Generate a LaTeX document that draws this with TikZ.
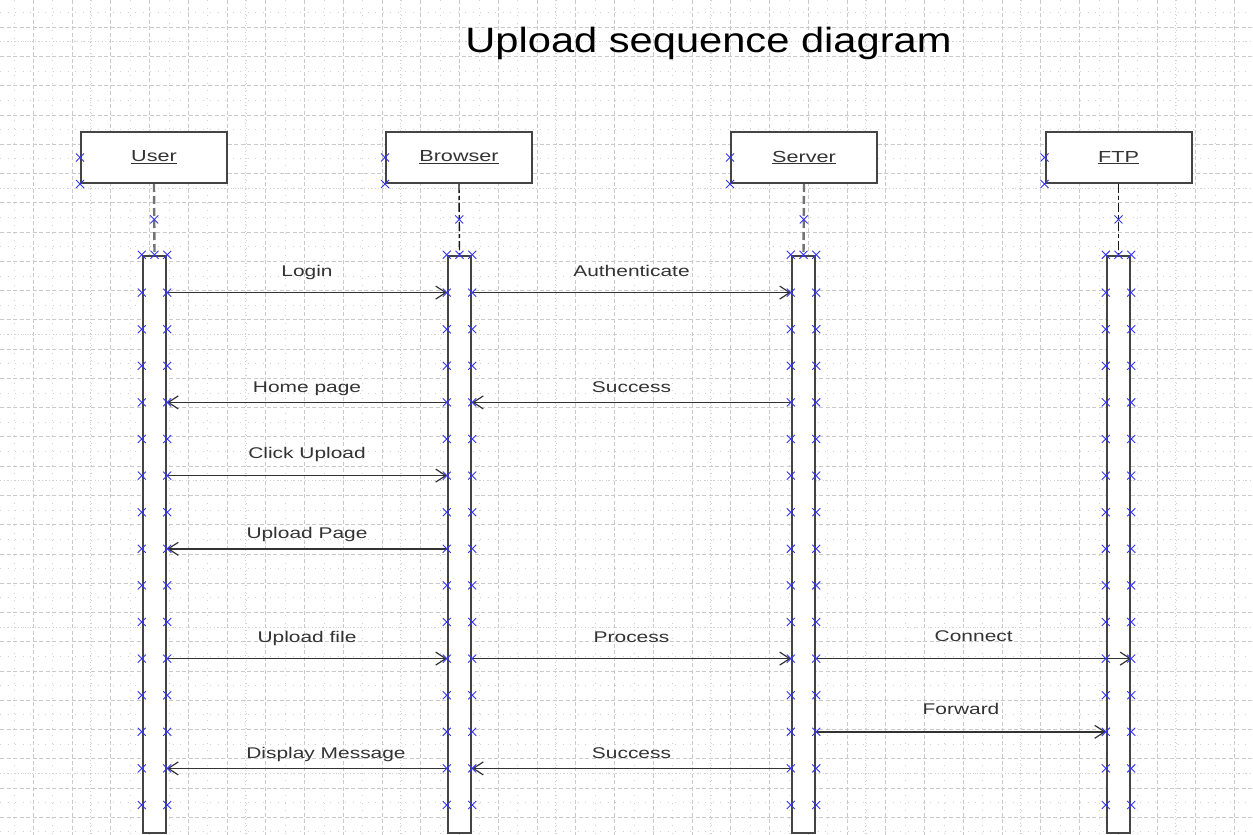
\documentclass[tikz,border=0pt]{standalone}
\usepackage{fontspec}
\usetikzlibrary{arrows.meta,calc}
\newfontfamily\labelfont[FakeStretch=1.35]{Liberation Sans}
\newfontfamily\titlefont[FakeStretch=1.19]{Liberation Sans}
\definecolor{gridline}{HTML}{CACACA}
\definecolor{griddot}{HTML}{D2D2D2}
\definecolor{outline}{HTML}{444444}
\definecolor{labeltext}{HTML}{333333}
\definecolor{marker}{HTML}{3434F4}
% small blue connection-point cross
\newcommand\drawxmark[1]{\draw[xm] (#1) +(-4,-4) -- +(4,4) +(-4,4) -- +(4,-4);}

\begin{document}
\begin{tikzpicture}[x=1pt,y=-1pt,
  gridmajor/.style={draw=gridline, line width=0.9pt, dash pattern=on 4pt off 2.5pt},
  gridminor/.style={draw=griddot, line width=0.9pt, dash pattern=on 1pt off 6.5pt},
  gridfine/.style={draw=griddot, line width=0.9pt, dash pattern=on 1pt off 2.5pt},
  headbox/.style={draw=outline, line width=2pt, fill=white, minimum width=146pt,
    minimum height=51pt, inner sep=0pt, text=labeltext,
    font=\labelfont\fontsize{16}{19}\selectfont},
  actbar/.style={draw=outline, line width=2.4pt, fill=white, minimum width=23pt,
    minimum height=577pt, inner sep=0pt},
  lifeA/.style={draw=black!55, line width=2.4pt, dash pattern=on 8pt off 4pt},
  lifeB/.style={draw=black!90, line width=1.4pt, dash pattern=on 9pt off 3pt on 4pt off 3pt},
  msg/.style={draw=black!80, line width=1.4pt,
    -{Straight Barb[length=10pt,width=13pt,line width=1.2pt]}},
  msglabel/.style={font=\labelfont\fontsize{15.5}{18}\selectfont, text=labeltext,
    anchor=base, inner sep=0pt},
  xm/.style={draw=marker, line width=0.9pt}
]
\useasboundingbox (0,0) rectangle (1253,835);
\fill[white] (0,0) rectangle (1253,835);

% drawing grid
\foreach \i in {-1,...,31} {
  \draw[gridminor] ({52.7+38.75*\i},0) -- ({52.7+38.75*\i},835);
}
\foreach \j in {-1,...,28} {
  \draw[gridminor] (0,{41.9+29.26*\j}) -- (1253,{41.9+29.26*\j});
}
\foreach \i in {0,...,7} {
  \draw[gridfine] ({90.4+155*\i},0) -- ({90.4+155*\i},835);
}
\foreach \j in {0,...,5} {
  \draw[gridfine] (0,{41.9+146.3*\j}) -- (1253,{41.9+146.3*\j});
}
\foreach \i in {-1,...,31} {
  \draw[gridmajor] ({33.3+38.75*\i},0) -- ({33.3+38.75*\i},835);
}
\foreach \j in {-1,...,28} {
  \draw[gridmajor] (0,{27.3+29.26*\j}) -- (1253,{27.3+29.26*\j});
}

% title
\node[font=\titlefont\fontsize{35}{40}\selectfont, anchor=base, inner sep=0pt]
  (title) at (708.5,52) {Upload sequence diagram};

% message rows
\foreach \k in {1,...,15} {
  \coordinate (r\k) at (0,{256+36.6*\k});
}

% participants
\node[headbox] (user)    at (154,157.5)    {\underline{User}};
\node[headbox] (browser) at (459,157.5)    {\underline{Browser}};
\node[headbox] (server)  at (804,157.5)    {\underline{Server}};
\node[headbox] (ftp)     at (1118.5,157.5) {\underline{FTP}};

% activation bars
\node[actbar] (userbar)    at (154.5,544.5)  {};
\node[actbar] (browserbar) at (459.5,544.5)  {};
\node[actbar] (serverbar)  at (803.5,544.5)  {};
\node[actbar] (ftpbar)     at (1118.5,544.5) {};

% lifelines
\draw[lifeA] (user.south)    -- (userbar.north);
\draw[lifeB] (browser.south) -- (browserbar.north);
\draw[lifeA] (server.south)  -- (serverbar.north);
\draw[lifeB] (ftp.south)     -- (ftpbar.north);

% messages
\draw[msg] (userbar.east |- r1) -- node[msglabel, yshift=16pt] {Login} (browserbar.west |- r1);
\draw[msg] (browserbar.east |- r1) -- node[msglabel, yshift=16pt] {Authenticate} (serverbar.west |- r1);
\draw[msg] (browserbar.west |- r4) -- node[msglabel, yshift=10pt] {Home page} (userbar.east |- r4);
\draw[msg] (serverbar.west |- r4) -- node[msglabel, yshift=10pt] {Success} (browserbar.east |- r4);
\draw[msg] (userbar.east |- r6) -- node[msglabel, yshift=17pt] {Click Upload} (browserbar.west |- r6);
\draw[msg] (browserbar.west |- r8) -- node[msglabel, yshift=10pt] {Upload Page} (userbar.east |- r8);
\draw[msg] (userbar.east |- r11) -- node[msglabel, yshift=16.5pt] {Upload file} (browserbar.west |- r11);
\draw[msg] (browserbar.east |- r11) -- node[msglabel, yshift=16.5pt] {Process} (serverbar.west |- r11);
\draw[msg] (serverbar.east |- r11) -- node[msglabel, yshift=17pt] {Connect} (ftpbar.east |- r11);
\draw[msg] (serverbar.east |- r13) -- node[msglabel, yshift=17pt] {Forward} (ftpbar.west |- r13);
\draw[msg] (browserbar.west |- r14) -- node[msglabel, yshift=9.5pt, xshift=19pt] {Display Message} (userbar.east |- r14);
\draw[msg] (serverbar.west |- r14) -- node[msglabel, yshift=9.5pt] {Success} (browserbar.east |- r14);

% connection points
\foreach \p in {user,browser,server,ftp} {
  \drawxmark{\p.west}
  \drawxmark{\p.south west}
  \drawxmark{$(\p.south)!0.5!(\p bar.north)$}
}
\foreach \b in {userbar,browserbar,serverbar,ftpbar} {
  \drawxmark{\b.north west}
  \drawxmark{\b.north}
  \drawxmark{\b.north east}
  \foreach \k in {1,...,15} {
    \drawxmark{\b.west |- r\k}
    \drawxmark{\b.east |- r\k}
  }
}
\end{tikzpicture}
\end{document}
